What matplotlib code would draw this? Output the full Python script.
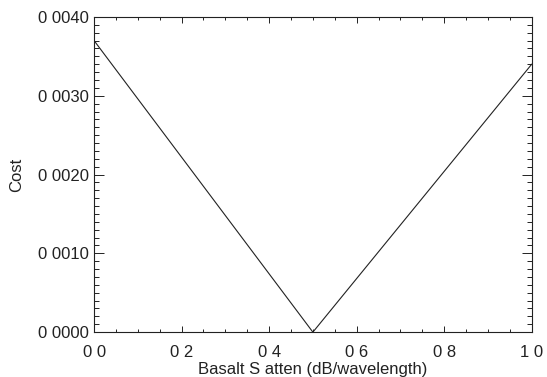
import matplotlib
matplotlib.use("Agg")
import matplotlib.pyplot as plt
from matplotlib.ticker import MultipleLocator, FixedLocator, FixedFormatter

plt.rcParams['font.family'] = ['Liberation Sans', 'DejaVu Sans']

# Cost versus basalt S attenuation
atten = [0.0, 0.5, 1.0]
cost = [0.0037, 0.0, 0.0034]

x_ticks = [0.0, 0.2, 0.4, 0.6, 0.8, 1.0]
x_tick_labels = ["0 0", "0 2", "0 4", "0 6", "0 8", "1 0"]
y_ticks = [0.0, 0.001, 0.002, 0.003, 0.004]
y_tick_labels = ["0 0000", "0 0010", "0 0020", "0 0030", "0 0040"]

fig = plt.figure(figsize=(5.47, 3.77), dpi=100)
ax = fig.add_axes([0.172, 0.119, 0.8, 0.836])

ax.plot(atten, cost, color="#222222", lw=0.8)

ax.set_xlim(0.0, 1.0)
ax.set_ylim(0.0, 0.004)

ax.xaxis.set_major_locator(FixedLocator(x_ticks))
ax.xaxis.set_major_formatter(FixedFormatter(x_tick_labels))
ax.xaxis.set_minor_locator(MultipleLocator(0.05))
ax.yaxis.set_major_locator(FixedLocator(y_ticks))
ax.yaxis.set_major_formatter(FixedFormatter(y_tick_labels))
ax.yaxis.set_minor_locator(MultipleLocator(0.0001))

ax.tick_params(axis="both", which="both", direction="in", top=True, right=True,
               color="#222222", width=0.7, labelsize=12, labelcolor="#222222")
ax.tick_params(axis="x", which="major", length=4.3, pad=9.5)
ax.tick_params(axis="x", which="minor", length=2.2)
ax.tick_params(axis="y", which="major", length=7.2, pad=4)
ax.tick_params(axis="y", which="minor", length=3.6)

for s in ax.spines.values():
    s.set_linewidth(0.8)
    s.set_color("#222222")

ax.set_xlabel("Basalt S atten (dB/wavelength)", fontsize=12, color="#222222", labelpad=1.5)
ax.set_ylabel("Cost", fontsize=12, color="#222222", labelpad=10)

fig.savefig("out.png", dpi=100)
